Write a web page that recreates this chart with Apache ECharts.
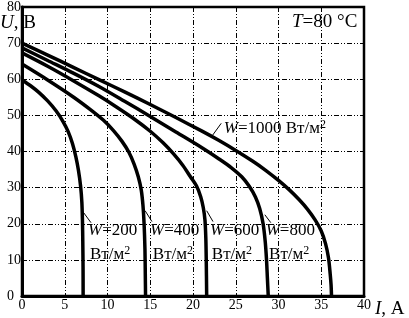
<!DOCTYPE html>
<html>
<head>
<meta charset="utf-8">
<script src="https://cdn.jsdelivr.net/npm/echarts@6/dist/echarts.min.js"></script>
<style>html,body{margin:0;padding:0;background:#fff}#c{width:409px;height:318px}</style>
</head>
<body>
<div id="c"></div>
<script>
// Data (I in A, U in V)
const I200 = [0, 1, 2, 3, 4, 4.8, 5.4, 5.9, 6.3, 6.6, 6.85, 7.0, 7.07, 7.11, 7.14, 7.15];
const U200 = [59.8, 58.2, 56.3, 54, 51.2, 48.3, 45.5, 42.2, 38.5, 34.8, 30.5, 26, 21, 15, 8, 0];
const I400 = [0, 3, 6, 8, 9.5, 10.7, 11.7, 12.5, 13.1, 13.6, 13.95, 14.15, 14.28, 14.38, 14.42, 14.45];
const U400 = [64.2, 59.8, 55.1, 51.6, 48.7, 45.8, 42.8, 39.8, 36.6, 33, 29.3, 25, 20, 13, 6, 0];
const I600 = [0, 3, 6, 9, 11, 13, 15, 16.5, 17.7, 18.8, 19.7, 20.4, 20.9, 21.2, 21.4, 21.5, 21.55, 21.6];
const U600 = [67.3, 63.6, 59.6, 55.4, 52.4, 49.2, 45.6, 42.4, 39.4, 36.2, 33, 30.5, 27.5, 24.5, 21, 16, 10, 0];
const I800 = [0, 3, 6, 9, 12, 15, 18, 21, 23, 24.5, 25.7, 26.6, 27.3, 27.8, 28.2, 28.45, 28.6, 28.7, 28.8];
const U800 = [68.7, 65.2, 61.7, 58, 53.9, 49.7, 45.4, 41.1, 38, 35.5, 33, 30.3, 27.4, 24.2, 20, 15, 10, 5, 0];
const I1000 = [0, 3, 6, 9, 12, 15, 18, 21, 23, 25, 27, 28.5, 30, 31.3, 32.4, 33.4, 34.3, 35, 35.5, 35.85, 36.05, 36.15, 36.2];
const U1000 = [70, 66.7, 63.3, 59.9, 56.5, 53, 49.4, 45.7, 43.1, 40.3, 37.3, 34.8, 32, 29.3, 26.7, 24, 21, 18, 14.5, 10.5, 6, 3, 0];
const irradiance = ['200', '400', '600', '800', '1000'];
const xTicks = [0, 5, 10, 15, 20, 25, 30, 35, 40];
const yTicks = [0, 10, 20, 30, 40, 50, 60, 70, 80];

const curves = [[I200, U200], [I400, U400], [I600, U600], [I800, U800], [I1000, U1000]];
const zip = (a, b) => a.map((v, i) => [v, b[i]]);

const FONT = '"Liberation Serif", "DejaVu Serif", serif';
const gridLine = { color: '#000', width: 1, type: [5, 2, 1, 2, 1, 2] };

const chart = echarts.init(document.getElementById('c'), null, { renderer: 'canvas' });
chart.setOption({
  animation: false,
  backgroundColor: '#fff',
  grid: { left: 22, right: 45, top: 5, bottom: 22, show: true, borderColor: '#000', borderWidth: 2.5, backgroundColor: 'transparent' },
  xAxis: {
    type: 'value', min: xTicks[0], max: xTicks[xTicks.length - 1], interval: 5,
    axisLine: { lineStyle: { color: '#000', width: 3 } },
    axisTick: { show: false },
    splitLine: { show: true, lineStyle: gridLine },
    axisLabel: { color: '#000', fontFamily: FONT, fontSize: 14, margin: 2 }
  },
  yAxis: {
    type: 'value', min: yTicks[0], max: yTicks[yTicks.length - 1], interval: 10,
    axisLine: { lineStyle: { color: '#000', width: 3 } },
    axisTick: { show: false },
    splitLine: { show: true, lineStyle: gridLine },
    axisLabel: { color: '#000', fontFamily: FONT, fontSize: 14, margin: 15, align: 'left' }
  },
  series: curves.map((c, k) => ({
    type: 'line', name: irradiance[k], data: zip(c[0], c[1]), showSymbol: false,
    smooth: 0.3, lineStyle: { color: '#000', width: 3.5 }, z: 5
  }))
});

// label anchors (data coordinates)
const labelAnchors = [
  { l1: [7.72, 18.1], l2: [7.95, 11.4], lead: [[7.2, 23.1], [8.07, 20.3]] },
  { l1: [14.97, 18.1], l2: [15.3, 11.4], lead: [[14.4, 23.6], [15.2, 20.6]] },
  { l1: [22.0, 18.1], l2: [22.2, 11.4], lead: [[21.6, 23.6], [22.34, 20.6]] },
  { l1: [28.5, 18.1], l2: [28.9, 11.4], lead: [[28.4, 22.5], [29.1, 20.3]] }
];
const px = p => chart.convertToPixel({ gridIndex: 0 }, p);
const rich = { i: { fontStyle: 'italic', fontFamily: FONT, fontSize: 17 }, s: { fontSize: 12, fontFamily: FONT, verticalAlign: 'top', padding: [0, 0, 8, 0] } };
const txt = (pos, text) => ({
  type: 'text', x: pos[0], y: pos[1], z: 20,
  style: { text: text, fill: '#000', font: '17px ' + FONT, verticalAlign: 'middle', align: 'left', rich: rich }
});
const line = (a, b) => ({ type: 'line', z: 19, shape: { x1: a[0], y1: a[1], x2: b[0], y2: b[1] }, style: { stroke: '#000', lineWidth: 1 } });

const graphics = [];
labelAnchors.forEach((a, k) => {
  graphics.push(txt(px(a.l1), '{i|W}=' + irradiance[k]));
  graphics.push(txt(px(a.l2), 'Вт/м{s|2}'));
  graphics.push(line(px(a.lead[0]), px(a.lead[1])));
});
graphics.push(txt(px([23.6, 46.4]), '{i|W}=1000 Вт/м{s|2}'));
graphics.push(line(px([22.2, 44.2]), px([23.3, 47.8])));
graphics.push({ type: 'text', x: 292, y: 22, z: 20, style: { text: '{i|T}=80 °C', fill: '#000', font: '19px ' + FONT, verticalAlign: 'middle', rich: { i: { fontStyle: 'italic', fontFamily: FONT, fontSize: 19 } } } });
graphics.push({ type: 'text', x: 0, y: 23, z: 20, style: { text: '{i|U}, В', fill: '#000', font: '19px ' + FONT, verticalAlign: 'middle', rich: { i: { fontStyle: 'italic', fontFamily: FONT, fontSize: 19 } } } });
graphics.push({ type: 'text', x: 375, y: 309, z: 20, style: { text: '{i|I}, А', fill: '#000', font: '19px ' + FONT, verticalAlign: 'middle', rich: { i: { fontStyle: 'italic', fontFamily: FONT, fontSize: 19 } } } });
chart.setOption({ graphic: graphics });
</script>
</body>
</html>
